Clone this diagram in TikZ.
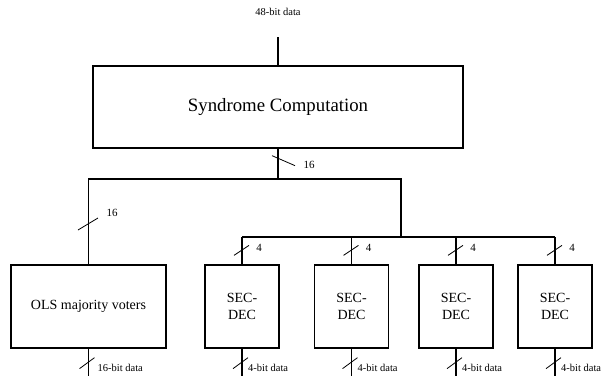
\documentclass[tikz,border=0pt]{standalone}
\usepackage{fontspec}
\setmainfont{Liberation Serif}
\usepackage{tikz}
\usetikzlibrary{calc,positioning}

\tikzset{
  blk/.style={draw,line width=1.3pt,align=center,inner sep=2pt,
    font=\fontsize{14}{17}\selectfont},
  secbox/.style={blk,minimum width=74pt,minimum height=83pt},
  wire/.style={line width=1.2pt},
  tick/.style={line width=0.8pt},
  lbl/.style={inner sep=1pt,font=\fontsize{10.5}{12}\selectfont},
  num/.style={inner sep=1pt,font=\fontsize{11}{12}\selectfont}
}

\begin{document}
\begin{tikzpicture}[x=1pt,y=-1pt]
    \useasboundingbox (0,0) rectangle (605,376);
    % syndrome block and its input
    \node[blk,minimum width=370pt,minimum height=82pt,font=\fontsize{18.8}{20}\selectfont]
      (syn) at (278,107) {Syndrome Computation};
    \coordinate (in48) at (278,37);
    \node[lbl] (in48lbl) at (278,12) {48-bit data};
    \draw[wire] (in48) -- (syn.north);
    % the two buses
    \coordinate (j0) at (278,179);
    \coordinate (cnr) at (401,179);
    \coordinate (cnrd) at (401,237);
    \draw[wire] (syn.south) -- (j0);
    \draw[tick] ($(syn.south)+(-6,7)$) -- ++(23,10);
    \node[num] (n16a) at (309,165) {16};
    % OLS voters
    \node[blk,minimum width=155pt,minimum height=83pt] (ols) at (88.5,306.5) {OLS majority voters};
    \draw[wire] (ols.north) |- (cnr) -- (cnrd);
    \draw[tick] (78,230) -- (98,218);
    \node[num] (n16b) at (112,213) {16};
    \draw[wire] (ols.south) -- (ols.south |- 0,376);
    \draw[tick] ($(ols.south)+(-9,20)$) -- ++(15,-11);
    \node[lbl,anchor=west] (olsout) at ($(ols.south)+(8,19)$) {16-bit data};
    % SEC-DEC decoders
    \foreach \i/\x in {1/242,2/351.5,3/456,4/555} {
      \node[secbox] (sec\i) at (\x,306.5) {SEC-\\DEC};
      \draw[wire] (sec\i.north) -- (sec\i.north |- cnrd);
      \draw[tick] ($(sec\i.north)+(-8,-9)$) -- ++(15,-10);
      \node[num] (n4\i) at ($(sec\i.north)+(17,-16)$) {4};
      \draw[wire] (sec\i.south) -- (sec\i.south |- 0,376);
      \draw[tick] ($(sec\i.south)+(-9,20)$) -- ++(15,-11);
      \node[lbl,anchor=west] (secout\i) at ($(sec\i.south)+(5,19)$) {4-bit data};
    }
    \draw[wire] (sec1.north |- cnrd) -- (sec4.north |- cnrd);
  \end{tikzpicture}
\end{document}
